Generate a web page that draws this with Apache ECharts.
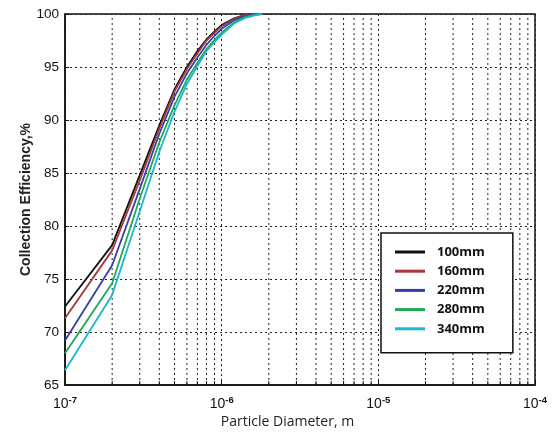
<!DOCTYPE html>
<html>
<head>
<meta charset="utf-8">
<script src="https://cdn.jsdelivr.net/npm/echarts@6/dist/echarts.min.js"></script>
<style>
html,body{margin:0;padding:0;background:#fff;}
#chart{width:554px;height:434px;}
</style>
</head>
<body>
<div id="chart"></div>
<script>
// Particle diameters (m)
const diameters = [1e-7, 2e-7, 3e-7, 4e-7, 5e-7, 6e-7, 7e-7, 8e-7, 9e-7, 1e-6, 1.2e-6, 1.4e-6, 1.6e-6, 1.8e-6];
// Collection efficiency (%) per series
const eff100 = [72.4, 78.2, 84.8, 89.5, 92.9, 95.0, 96.5, 97.6, 98.35, 98.95, 99.6, 99.9, 100, 100];
const eff160 = [71.3, 77.7, 84.3, 89.2, 92.7, 94.8, 96.3, 97.5, 98.25, 98.85, 99.55, 99.9, 100, 100];
const eff220 = [69.2, 76.3, 83.5, 88.7, 92.2, 94.4, 95.9, 97.1, 97.95, 98.6, 99.4, 99.8, 99.97, 100];
const eff280 = [68.0, 74.6, 82.6, 87.9, 91.4, 93.8, 95.4, 96.7, 97.55, 98.25, 99.2, 99.7, 99.9, 100];
const eff340 = [66.4, 73.5, 81.4, 87.0, 90.8, 93.4, 95.1, 96.5, 97.35, 98.05, 99.1, 99.6, 99.85, 100];
const seriesNames = ['100mm', '160mm', '220mm', '280mm', '340mm'];
const seriesValues = [eff100, eff160, eff220, eff280, eff340];
const seriesColors = ['#111111', '#a8383a', '#3540a8', '#1fa955', '#19b8d2'];
// Axis settings
const xMin = 1e-7, xMax = 1e-4;
const yMin = 65, yMax = 100, yStep = 5;
const minorMultipliers = [2, 3, 4, 5, 6, 7, 8, 9];
const decades = [1e-7, 1e-6, 1e-5];

const minorValues = [];
decades.forEach(d => minorMultipliers.forEach(m => minorValues.push(m * d)));

const dotted = { type: [2, 3], color: '#222', width: 1 };

const series = seriesNames.map((name, i) => ({
  name: name,
  type: 'line',
  data: diameters.map((d, j) => [d, seriesValues[i][j]]),
  showSymbol: false,
  symbol: 'none',
  smooth: false,
  lineStyle: { color: seriesColors[i], width: 1.8 },
  itemStyle: { color: seriesColors[i] },
  clip: false,
  z: 3,
  animation: false
}));

// Minor (log) grid lines drawn via the axis scale
series.unshift({
  type: 'custom',
  silent: true,
  z: 1,
  animation: false,
  data: minorValues.map(v => [v]),
  encode: { x: 0 },
  renderItem: (params, api) => {
    const v = api.value(0);
    const p1 = api.coord([v, yMin]);
    const p2 = api.coord([v, yMax]);
    return {
      type: 'group',
      children: [
        {
          type: 'line',
          shape: { x1: p1[0], y1: p1[1], x2: p2[0], y2: p2[1] },
          style: { stroke: '#222', lineWidth: 1, lineDash: [2, 3] }
        },
        {
          type: 'line',
          shape: { x1: p1[0], y1: p1[1], x2: p1[0], y2: p1[1] - 4 },
          style: { stroke: '#111', lineWidth: 1 }
        }
      ]
    };
  }
});

const chart = echarts.init(document.getElementById('chart'), null, { renderer: 'canvas' });
chart.setOption({
  backgroundColor: '#fff',
  animation: false,
  grid: {
    left: 65, right: 19, top: 14, bottom: 49,
    show: true, borderColor: '#111', borderWidth: 1.5, backgroundColor: 'transparent'
  },
  legend: {
    orient: 'vertical',
    left: 381, top: 233,
    width: 133,
    padding: [11, 28, 16, 14],
    backgroundColor: '#fff',
    borderColor: '#111',
    borderWidth: 1.5,
    borderRadius: 0,
    icon: 'rect',
    itemWidth: 30,
    itemHeight: 3,
    itemGap: 3.2,
    textStyle: {
      fontFamily: 'Open Sans', fontWeight: 'bold', fontSize: 13, color: '#111',
      lineHeight: 16, padding: [0, 0, 0, 7]
    },
    data: seriesNames
  },
  xAxis: {
    type: 'log',
    logBase: 10,
    min: xMin, max: xMax,
    name: 'Particle Diameter, m',
    nameLocation: 'middle',
    nameGap: 30,
    nameMoveOverlap: false,
    nameTextStyle: { fontFamily: 'Open Sans', fontSize: 14, color: '#222', padding: [0, 25, 0, 0] },
    axisLine: { show: true, lineStyle: { color: '#111', width: 1.5 } },
    axisTick: { show: true, inside: true, length: 5, lineStyle: { color: '#111' } },
    axisLabel: {
      margin: 10,
      formatter: v => '{b|10}{s|' + Math.round(Math.log10(v)) + '}',
      rich: {
        b: { fontFamily: 'Liberation Sans', fontSize: 14, color: '#111', lineHeight: 16, verticalAlign: 'bottom' },
        s: { fontFamily: 'Liberation Sans', fontSize: 9.5, color: '#111', lineHeight: 16, verticalAlign: 'top', fontWeight: 'bold' }
      }
    },
    splitLine: { show: true, lineStyle: dotted }
  },
  yAxis: {
    type: 'value',
    min: yMin, max: yMax, interval: yStep,
    name: 'Collection Efficiency,%',
    nameLocation: 'middle',
    nameGap: 32,
    nameMoveOverlap: false,
    nameTextStyle: { fontFamily: 'Liberation Sans', fontWeight: 'bold', fontSize: 14, color: '#222' },
    axisLine: { show: true, lineStyle: { color: '#111', width: 1.5 } },
    axisTick: { show: true, inside: true, length: 4, lineStyle: { color: '#111' } },
    axisLabel: { fontFamily: 'Liberation Sans', fontSize: 13.5, color: '#111', margin: 6 },
    splitLine: { show: true, lineStyle: dotted }
  },
  series: series
});
</script>
</body>
</html>
